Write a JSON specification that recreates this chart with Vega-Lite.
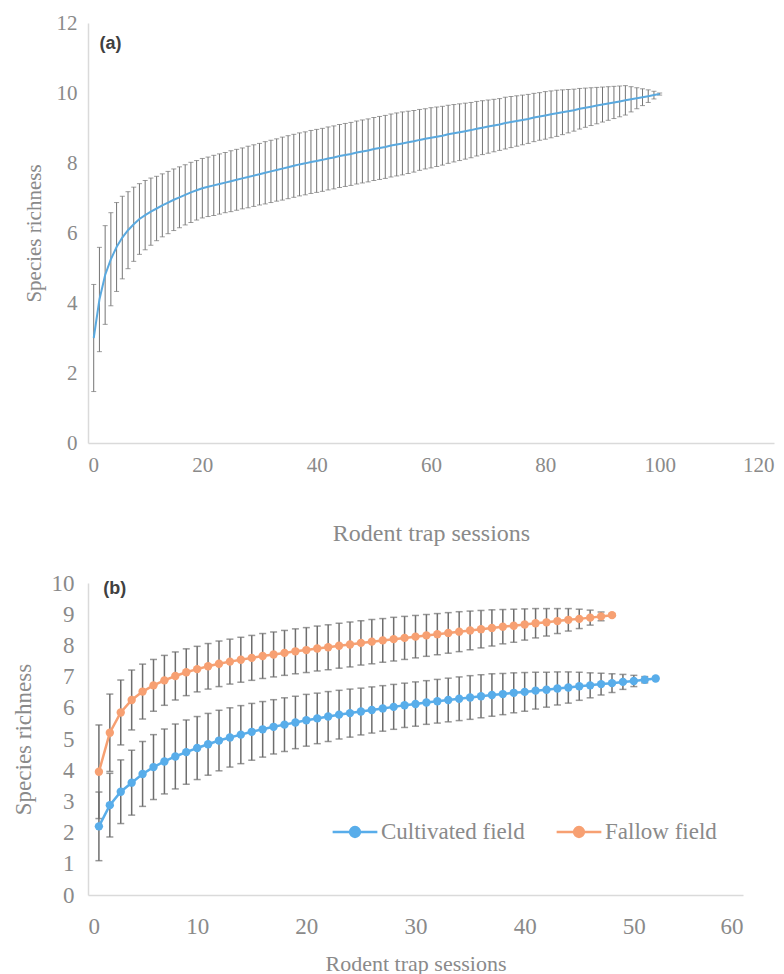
{
  "$schema": "https://vega.github.io/schema/vega-lite/v6.json",
  "background": "white",
  "padding": {"left": 12, "top": 12, "right": 5, "bottom": 5},
  "bounds": "flush",
  "spacing": 140,
  "config": {
    "view": {"stroke": null},
    "font": "Liberation Serif",
    "axis": {
      "grid": false,
      "ticks": false,
      "domainColor": "#dadada",
      "domainWidth": 1.5,
      "labelColor": "#8a8a8a",
      "titleColor": "#8a8a8a",
      "labelFont": "Liberation Serif",
      "titleFont": "Liberation Serif",
      "titleFontWeight": "normal",
      "labelOverlap": false
    }
  },
  "resolve": {"scale": {"color": "independent"}, "legend": {"color": "independent"}},
  "datasets": {
    "a": [
      {"s":1,"m":3.00,"lo":1.47,"hi":4.53},{"s":2,"m":4.10,"lo":2.61,"hi":5.59},{"s":3,"m":4.80,"lo":3.39,"hi":6.21},{"s":4,"m":5.25,"lo":3.92,"hi":6.58},{"s":5,"m":5.60,"lo":4.33,"hi":6.87},
      {"s":6,"m":5.87,"lo":4.69,"hi":7.05},{"s":7,"m":6.08,"lo":4.98,"hi":7.18},{"s":8,"m":6.25,"lo":5.19,"hi":7.31},{"s":9,"m":6.40,"lo":5.39,"hi":7.41},{"s":10,"m":6.51,"lo":5.52,"hi":7.50},
      {"s":11,"m":6.61,"lo":5.65,"hi":7.57},{"s":12,"m":6.70,"lo":5.78,"hi":7.62},{"s":13,"m":6.79,"lo":5.89,"hi":7.69},{"s":14,"m":6.87,"lo":5.98,"hi":7.76},{"s":15,"m":6.95,"lo":6.07,"hi":7.83},
      {"s":16,"m":7.02,"lo":6.15,"hi":7.89},{"s":17,"m":7.09,"lo":6.23,"hi":7.95},{"s":18,"m":7.16,"lo":6.30,"hi":8.02},{"s":19,"m":7.22,"lo":6.37,"hi":8.07},{"s":20,"m":7.28,"lo":6.43,"hi":8.13},
      {"s":21,"m":7.32,"lo":6.47,"hi":8.17},{"s":22,"m":7.36,"lo":6.50,"hi":8.22},{"s":23,"m":7.40,"lo":6.54,"hi":8.26},{"s":24,"m":7.44,"lo":6.58,"hi":8.30},{"s":25,"m":7.48,"lo":6.61,"hi":8.35},
      {"s":26,"m":7.52,"lo":6.65,"hi":8.39},{"s":27,"m":7.56,"lo":6.69,"hi":8.43},{"s":28,"m":7.60,"lo":6.72,"hi":8.48},{"s":29,"m":7.64,"lo":6.76,"hi":8.52},{"s":30,"m":7.68,"lo":6.80,"hi":8.56},
      {"s":31,"m":7.72,"lo":6.83,"hi":8.61},{"s":32,"m":7.76,"lo":6.87,"hi":8.65},{"s":33,"m":7.80,"lo":6.91,"hi":8.69},{"s":34,"m":7.84,"lo":6.94,"hi":8.74},{"s":35,"m":7.88,"lo":6.98,"hi":8.78},
      {"s":36,"m":7.92,"lo":7.02,"hi":8.82},{"s":37,"m":7.96,"lo":7.06,"hi":8.86},{"s":38,"m":7.99,"lo":7.09,"hi":8.89},{"s":39,"m":8.03,"lo":7.13,"hi":8.93},{"s":40,"m":8.06,"lo":7.16,"hi":8.96},
      {"s":41,"m":8.09,"lo":7.19,"hi":8.99},{"s":42,"m":8.13,"lo":7.23,"hi":9.03},{"s":43,"m":8.16,"lo":7.26,"hi":9.06},{"s":44,"m":8.20,"lo":7.30,"hi":9.10},{"s":45,"m":8.23,"lo":7.33,"hi":9.13},
      {"s":46,"m":8.26,"lo":7.36,"hi":9.16},{"s":47,"m":8.30,"lo":7.40,"hi":9.20},{"s":48,"m":8.33,"lo":7.43,"hi":9.23},{"s":49,"m":8.36,"lo":7.46,"hi":9.26},{"s":50,"m":8.40,"lo":7.50,"hi":9.30},
      {"s":51,"m":8.43,"lo":7.53,"hi":9.33},{"s":52,"m":8.46,"lo":7.56,"hi":9.36},{"s":53,"m":8.50,"lo":7.60,"hi":9.40},{"s":54,"m":8.53,"lo":7.63,"hi":9.43},{"s":55,"m":8.56,"lo":7.66,"hi":9.46},
      {"s":56,"m":8.59,"lo":7.70,"hi":9.48},{"s":57,"m":8.62,"lo":7.74,"hi":9.50},{"s":58,"m":8.66,"lo":7.79,"hi":9.53},{"s":59,"m":8.69,"lo":7.83,"hi":9.55},{"s":60,"m":8.72,"lo":7.86,"hi":9.58},
      {"s":61,"m":8.75,"lo":7.90,"hi":9.60},{"s":62,"m":8.78,"lo":7.94,"hi":9.62},{"s":63,"m":8.82,"lo":7.99,"hi":9.65},{"s":64,"m":8.85,"lo":8.03,"hi":9.67},{"s":65,"m":8.88,"lo":8.07,"hi":9.69},
      {"s":66,"m":8.91,"lo":8.11,"hi":9.71},{"s":67,"m":8.94,"lo":8.15,"hi":9.73},{"s":68,"m":8.98,"lo":8.20,"hi":9.76},{"s":69,"m":9.01,"lo":8.24,"hi":9.78},{"s":70,"m":9.04,"lo":8.28,"hi":9.80},
      {"s":71,"m":9.07,"lo":8.32,"hi":9.82},{"s":72,"m":9.10,"lo":8.36,"hi":9.84},{"s":73,"m":9.14,"lo":8.40,"hi":9.88},{"s":74,"m":9.17,"lo":8.44,"hi":9.90},{"s":75,"m":9.20,"lo":8.48,"hi":9.92},
      {"s":76,"m":9.23,"lo":8.52,"hi":9.94},{"s":77,"m":9.26,"lo":8.56,"hi":9.96},{"s":78,"m":9.30,"lo":8.61,"hi":9.99},{"s":79,"m":9.33,"lo":8.65,"hi":10.01},{"s":80,"m":9.36,"lo":8.68,"hi":10.04},
      {"s":81,"m":9.39,"lo":8.72,"hi":10.06},{"s":82,"m":9.42,"lo":8.76,"hi":10.08},{"s":83,"m":9.45,"lo":8.81,"hi":10.09},{"s":84,"m":9.48,"lo":8.86,"hi":10.10},{"s":85,"m":9.51,"lo":8.91,"hi":10.11},
      {"s":86,"m":9.55,"lo":8.97,"hi":10.13},{"s":87,"m":9.58,"lo":9.02,"hi":10.14},{"s":88,"m":9.61,"lo":9.07,"hi":10.15},{"s":89,"m":9.64,"lo":9.12,"hi":10.16},{"s":90,"m":9.67,"lo":9.17,"hi":10.17},
      {"s":91,"m":9.70,"lo":9.22,"hi":10.18},{"s":92,"m":9.73,"lo":9.27,"hi":10.19},{"s":93,"m":9.76,"lo":9.32,"hi":10.20},{"s":94,"m":9.79,"lo":9.37,"hi":10.21},{"s":95,"m":9.82,"lo":9.46,"hi":10.18},
      {"s":96,"m":9.85,"lo":9.55,"hi":10.15},{"s":97,"m":9.88,"lo":9.64,"hi":10.12},{"s":98,"m":9.91,"lo":9.73,"hi":10.09},{"s":99,"m":9.94,"lo":9.83,"hi":10.05},{"s":100,"m":9.97,"lo":9.94,"hi":10.00}
    ],
    "b": [
      {"f":"Cultivated field","s":1,"m":2.20,"lo":1.10,"hi":3.30},{"f":"Cultivated field","s":2,"m":2.88,"lo":1.86,"hi":3.90},{"f":"Cultivated field","s":3,"m":3.31,"lo":2.29,"hi":4.33},{"f":"Cultivated field","s":4,"m":3.60,"lo":2.56,"hi":4.64},
      {"f":"Cultivated field","s":5,"m":3.88,"lo":2.84,"hi":4.92},{"f":"Cultivated field","s":6,"m":4.10,"lo":3.06,"hi":5.14},{"f":"Cultivated field","s":7,"m":4.28,"lo":3.24,"hi":5.32},{"f":"Cultivated field","s":8,"m":4.44,"lo":3.40,"hi":5.48},
      {"f":"Cultivated field","s":9,"m":4.58,"lo":3.55,"hi":5.61},{"f":"Cultivated field","s":10,"m":4.71,"lo":3.70,"hi":5.72},{"f":"Cultivated field","s":11,"m":4.83,"lo":3.84,"hi":5.82},{"f":"Cultivated field","s":12,"m":4.95,"lo":3.98,"hi":5.92},
      {"f":"Cultivated field","s":13,"m":5.05,"lo":4.10,"hi":6.00},{"f":"Cultivated field","s":14,"m":5.14,"lo":4.21,"hi":6.07},{"f":"Cultivated field","s":15,"m":5.23,"lo":4.32,"hi":6.14},{"f":"Cultivated field","s":16,"m":5.31,"lo":4.42,"hi":6.20},
      {"f":"Cultivated field","s":17,"m":5.39,"lo":4.52,"hi":6.26},{"f":"Cultivated field","s":18,"m":5.46,"lo":4.60,"hi":6.32},{"f":"Cultivated field","s":19,"m":5.53,"lo":4.69,"hi":6.37},{"f":"Cultivated field","s":20,"m":5.60,"lo":4.77,"hi":6.43},
      {"f":"Cultivated field","s":21,"m":5.66,"lo":4.85,"hi":6.47},{"f":"Cultivated field","s":22,"m":5.72,"lo":4.92,"hi":6.52},{"f":"Cultivated field","s":23,"m":5.78,"lo":5.00,"hi":6.56},{"f":"Cultivated field","s":24,"m":5.83,"lo":5.06,"hi":6.60},
      {"f":"Cultivated field","s":25,"m":5.88,"lo":5.13,"hi":6.63},{"f":"Cultivated field","s":26,"m":5.93,"lo":5.19,"hi":6.67},{"f":"Cultivated field","s":27,"m":5.98,"lo":5.25,"hi":6.71},{"f":"Cultivated field","s":28,"m":6.03,"lo":5.31,"hi":6.75},
      {"f":"Cultivated field","s":29,"m":6.08,"lo":5.37,"hi":6.79},{"f":"Cultivated field","s":30,"m":6.12,"lo":5.41,"hi":6.83},{"f":"Cultivated field","s":31,"m":6.17,"lo":5.47,"hi":6.87},{"f":"Cultivated field","s":32,"m":6.21,"lo":5.51,"hi":6.91},
      {"f":"Cultivated field","s":33,"m":6.25,"lo":5.55,"hi":6.95},{"f":"Cultivated field","s":34,"m":6.29,"lo":5.59,"hi":6.99},{"f":"Cultivated field","s":35,"m":6.33,"lo":5.63,"hi":7.03},{"f":"Cultivated field","s":36,"m":6.37,"lo":5.68,"hi":7.06},
      {"f":"Cultivated field","s":37,"m":6.41,"lo":5.73,"hi":7.09},{"f":"Cultivated field","s":38,"m":6.44,"lo":5.78,"hi":7.10},{"f":"Cultivated field","s":39,"m":6.48,"lo":5.84,"hi":7.12},{"f":"Cultivated field","s":40,"m":6.51,"lo":5.89,"hi":7.13},
      {"f":"Cultivated field","s":41,"m":6.55,"lo":5.96,"hi":7.14},{"f":"Cultivated field","s":42,"m":6.58,"lo":6.02,"hi":7.14},{"f":"Cultivated field","s":43,"m":6.62,"lo":6.09,"hi":7.15},{"f":"Cultivated field","s":44,"m":6.65,"lo":6.15,"hi":7.15},
      {"f":"Cultivated field","s":45,"m":6.69,"lo":6.24,"hi":7.14},{"f":"Cultivated field","s":46,"m":6.72,"lo":6.32,"hi":7.12},{"f":"Cultivated field","s":47,"m":6.76,"lo":6.41,"hi":7.11},{"f":"Cultivated field","s":48,"m":6.79,"lo":6.49,"hi":7.09},
      {"f":"Cultivated field","s":49,"m":6.83,"lo":6.59,"hi":7.07},{"f":"Cultivated field","s":50,"m":6.86,"lo":6.68,"hi":7.04},{"f":"Cultivated field","s":51,"m":6.90,"lo":6.80,"hi":7.00},{"f":"Cultivated field","s":52,"m":6.94,"lo":6.91,"hi":6.97},
      {"f":"Fallow field","s":1,"m":3.95,"lo":2.45,"hi":5.45},{"f":"Fallow field","s":2,"m":5.20,"lo":3.96,"hi":6.44},{"f":"Fallow field","s":3,"m":5.85,"lo":4.81,"hi":6.89},{"f":"Fallow field","s":4,"m":6.25,"lo":5.29,"hi":7.21},
      {"f":"Fallow field","s":5,"m":6.52,"lo":5.64,"hi":7.40},{"f":"Fallow field","s":6,"m":6.72,"lo":5.89,"hi":7.55},{"f":"Fallow field","s":7,"m":6.88,"lo":6.08,"hi":7.68},{"f":"Fallow field","s":8,"m":7.02,"lo":6.25,"hi":7.79},
      {"f":"Fallow field","s":9,"m":7.14,"lo":6.39,"hi":7.89},{"f":"Fallow field","s":10,"m":7.24,"lo":6.51,"hi":7.97},{"f":"Fallow field","s":11,"m":7.33,"lo":6.60,"hi":8.06},{"f":"Fallow field","s":12,"m":7.41,"lo":6.68,"hi":8.14},
      {"f":"Fallow field","s":13,"m":7.48,"lo":6.76,"hi":8.20},{"f":"Fallow field","s":14,"m":7.54,"lo":6.82,"hi":8.26},{"f":"Fallow field","s":15,"m":7.60,"lo":6.88,"hi":8.32},{"f":"Fallow field","s":16,"m":7.66,"lo":6.94,"hi":8.38},
      {"f":"Fallow field","s":17,"m":7.71,"lo":6.99,"hi":8.43},{"f":"Fallow field","s":18,"m":7.76,"lo":7.04,"hi":8.48},{"f":"Fallow field","s":19,"m":7.81,"lo":7.09,"hi":8.53},{"f":"Fallow field","s":20,"m":7.85,"lo":7.13,"hi":8.57},
      {"f":"Fallow field","s":21,"m":7.90,"lo":7.18,"hi":8.62},{"f":"Fallow field","s":22,"m":7.94,"lo":7.22,"hi":8.66},{"f":"Fallow field","s":23,"m":7.99,"lo":7.27,"hi":8.71},{"f":"Fallow field","s":24,"m":8.03,"lo":7.31,"hi":8.75},
      {"f":"Fallow field","s":25,"m":8.08,"lo":7.37,"hi":8.79},{"f":"Fallow field","s":26,"m":8.12,"lo":7.41,"hi":8.83},{"f":"Fallow field","s":27,"m":8.16,"lo":7.46,"hi":8.86},{"f":"Fallow field","s":28,"m":8.20,"lo":7.50,"hi":8.90},
      {"f":"Fallow field","s":29,"m":8.24,"lo":7.55,"hi":8.93},{"f":"Fallow field","s":30,"m":8.28,"lo":7.60,"hi":8.96},{"f":"Fallow field","s":31,"m":8.32,"lo":7.65,"hi":8.99},{"f":"Fallow field","s":32,"m":8.36,"lo":7.70,"hi":9.02},
      {"f":"Fallow field","s":33,"m":8.40,"lo":7.75,"hi":9.05},{"f":"Fallow field","s":34,"m":8.44,"lo":7.80,"hi":9.08},{"f":"Fallow field","s":35,"m":8.48,"lo":7.86,"hi":9.10},{"f":"Fallow field","s":36,"m":8.52,"lo":7.92,"hi":9.12},
      {"f":"Fallow field","s":37,"m":8.56,"lo":7.98,"hi":9.14},{"f":"Fallow field","s":38,"m":8.60,"lo":8.05,"hi":9.15},{"f":"Fallow field","s":39,"m":8.63,"lo":8.10,"hi":9.16},{"f":"Fallow field","s":40,"m":8.67,"lo":8.17,"hi":9.17},
      {"f":"Fallow field","s":41,"m":8.71,"lo":8.24,"hi":9.18},{"f":"Fallow field","s":42,"m":8.74,"lo":8.30,"hi":9.18},{"f":"Fallow field","s":43,"m":8.78,"lo":8.38,"hi":9.18},{"f":"Fallow field","s":44,"m":8.82,"lo":8.46,"hi":9.18},
      {"f":"Fallow field","s":45,"m":8.85,"lo":8.54,"hi":9.16},{"f":"Fallow field","s":46,"m":8.89,"lo":8.65,"hi":9.13},{"f":"Fallow field","s":47,"m":8.93,"lo":8.79,"hi":9.07},{"f":"Fallow field","s":48,"m":8.97,"lo":8.93,"hi":9.01}
    ]
  },
  "vconcat": [
    {
      "width": 686,
      "height": 420,
      "layer": [
        {
          "data": {"name": "a"},
          "mark": {"type": "errorbar", "color": "#747474", "thickness": 1, "ticks": {"size": 5, "color": "#747474", "thickness": 1}},
          "encoding": {
            "x": {"field": "s", "type": "quantitative", "scale": {"domain": [0, 120], "nice": false},
                  "axis": {"values": [0, 20, 40, 60, 80, 100, 120], "labelFontSize": 21, "labelPadding": 11, "title": "Rodent trap sessions", "titleFontSize": 24, "titlePadding": 46}},
            "y": {"field": "lo", "type": "quantitative", "scale": {"domain": [0, 12], "nice": false},
                  "axis": {"values": [0, 2, 4, 6, 8, 10, 12], "labelFontSize": 21, "labelPadding": 11, "title": "Species richness", "titleFontSize": 21, "titlePadding": 12}},
            "y2": {"field": "hi"}
          }
        },
        {
          "data": {"name": "a"},
          "mark": {"type": "line", "color": "#5aa9df", "strokeWidth": 2},
          "encoding": {
            "x": {"field": "s", "type": "quantitative"},
            "y": {"field": "m", "type": "quantitative", "title": "Species richness"}
          }
        },
        {
          "data": {"values": [{}]},
          "mark": {"type": "text", "text": "(a)", "font": "Liberation Sans", "fontWeight": "bold", "fontSize": 18, "color": "#404040", "align": "left", "baseline": "middle"},
          "encoding": {
            "x": {"datum": 2.0, "type": "quantitative"},
            "y": {"datum": 11.4, "type": "quantitative"}
          }
        }
      ]
    },
    {
      "width": 655,
      "height": 312,
      "encoding": {
        "x": {"type": "quantitative", "scale": {"domain": [0, 60], "nice": false},
              "axis": {"values": [0, 10, 20, 30, 40, 50, 60], "labelFontSize": 23, "labelPadding": 20, "title": "Rodent trap sessions", "titleFontSize": 22, "titlePadding": 15, "labelOverlap": false}},
        "y": {"type": "quantitative", "scale": {"domain": [0, 10], "nice": false},
              "axis": {"values": [0, 1, 2, 3, 4, 5, 6, 7, 8, 9, 10], "tickCount": 11, "labelFontSize": 23, "labelPadding": 14, "title": "Species richness", "titleFontSize": 23, "titlePadding": 16, "labelOverlap": false}}
      },
      "layer": [
        {
          "data": {"name": "b"},
          "mark": {"type": "errorbar", "color": "#6e6e6e", "thickness": 1.5, "ticks": {"size": 7, "color": "#6e6e6e", "thickness": 1.5}},
          "encoding": {
            "x": {"field": "s", "type": "quantitative"},
            "y": {"field": "lo", "type": "quantitative", "title": "Species richness"},
            "y2": {"field": "hi"},
            "detail": {"field": "f"}
          }
        },
        {
          "data": {"name": "b"},
          "mark": {"type": "line", "strokeWidth": 2.5},
          "encoding": {
            "x": {"field": "s", "type": "quantitative"},
            "y": {"field": "m", "type": "quantitative", "title": "Species richness"},
            "color": {"field": "f", "type": "nominal",
                      "scale": {"domain": ["Cultivated field", "Fallow field"], "range": ["#58adea", "#f7a072"]},
                      "legend": {"orient": "none", "legendX": 243, "legendY": 225, "direction": "horizontal", "title": null,
                                 "labelFontSize": 23, "labelColor": "#8a8a8a", "labelFont": "Liberation Serif",
                                 "symbolType": "M-1,0H1M0.22,0A0.22,0.22,0,1,1,-0.22,0A0.22,0.22,0,1,1,0.22,0Z",
                                 "symbolSize": 2000, "symbolStrokeWidth": 2.5, "columnPadding": 26, "labelOffset": 2}}
          }
        },
        {
          "data": {"name": "b"},
          "mark": {"type": "point", "filled": true, "size": 70, "opacity": 1},
          "encoding": {
            "x": {"field": "s", "type": "quantitative"},
            "y": {"field": "m", "type": "quantitative", "title": "Species richness"},
            "color": {"field": "f", "type": "nominal"}
          }
        },
        {
          "data": {"values": [{}]},
          "mark": {"type": "text", "text": "(b)", "font": "Liberation Sans", "fontWeight": "bold", "fontSize": 18, "color": "#404040", "align": "left", "baseline": "middle"},
          "encoding": {
            "x": {"datum": 1.4, "type": "quantitative"},
            "y": {"datum": 9.8, "type": "quantitative"}
          }
        }
      ]
    }
  ]
}
